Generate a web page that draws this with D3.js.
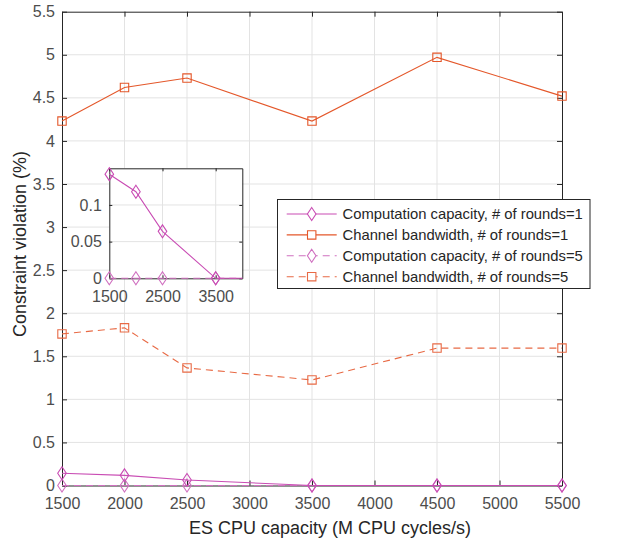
<!DOCTYPE html>
<html>
<head>
<meta charset="utf-8">
<script src="https://cdn.jsdelivr.net/npm/d3@7"></script>
<style>
body { margin: 0; background: #fff; }
text { font-family: "Liberation Sans", Arial, sans-serif; }
</style>
</head>
<body>
<div class="chart"></div>
<script>
const cpu = [1500, 2000, 2500, 3500, 4500, 5500];
const compR1 = [0.142, 0.118, 0.064, 0, 0, 0];
const chanR1 = [4.23, 4.62, 4.73, 4.23, 4.97, 4.52];
const compR5 = [0, 0, 0, 0, 0, 0];
const chanR5 = [1.76, 1.83, 1.365, 1.225, 1.595, 1.595];
const xTicks = [1500, 2000, 2500, 3000, 3500, 4000, 4500, 5000, 5500];
const yTicks = [0, 0.5, 1, 1.5, 2, 2.5, 3, 3.5, 4, 4.5, 5, 5.5];
const insetXTicks = [1500, 2500, 3500];
const insetYTicks = [0, 0.05, 0.1];

const compColor = '#c94db4';
const chanColor = '#e4572a';
const compColor5 = '#d070c0';
const chanColor5 = '#e86a45';

const series = [
  {name: 'Computation capacity, # of rounds=1', vals: compR1, color: compColor, dash: null, marker: 'diamond'},
  {name: 'Channel bandwidth, # of rounds=1', vals: chanR1, color: chanColor, dash: null, marker: 'square'},
  {name: 'Computation capacity, # of rounds=5', vals: compR5, color: compColor5, dash: '7,5', marker: 'diamond'},
  {name: 'Channel bandwidth, # of rounds=5', vals: chanR5, color: chanColor5, dash: '7,5', marker: 'square'}
];

const W = 617, H = 542;
const svg = d3.select('.chart').append('svg')
  .attr('width', W)
  .attr('height', H);

const x = d3.scaleLinear().domain([1500, 5500]).range([62, 562]);
const y = d3.scaleLinear().domain([0, 5.5]).range([485.5, 11.7]);

function markerPath(type) {
  if (type === 'diamond') return 'M0,-6.5L4.3,0L0,6.5L-4.3,0Z';
  return 'M-4.2,-4.2H4.2V4.2H-4.2Z';
}

// grid
svg.append('g').selectAll('line').data(xTicks.slice(1, -1)).enter().append('line')
  .attr('x1', d => x(d)).attr('x2', d => x(d))
  .attr('y1', y(0)).attr('y2', y(5.5))
  .attr('stroke', '#e3e3e3').attr('stroke-width', 1);
svg.append('g').selectAll('line').data(yTicks.slice(1, -1)).enter().append('line')
  .attr('x1', x(1500)).attr('x2', x(5500))
  .attr('y1', d => y(d)).attr('y2', d => y(d))
  .attr('stroke', '#e3e3e3').attr('stroke-width', 1);

// axes
const axisColor = '#262626';
const tickColor = '#4d4d4d';
function styleAxis(g, hideLabels) {
  g.select('.domain').attr('stroke', axisColor);
  g.selectAll('.tick line').attr('stroke', axisColor);
  g.selectAll('.tick text').attr('fill', tickColor).attr('font-size', 16);
  if (hideLabels) g.selectAll('.tick text').remove();
}
svg.append('g').attr('transform', `translate(0,${y(0)})`)
  .call(d3.axisBottom(x).tickValues(xTicks).tickSize(-5).tickSizeOuter(0).tickPadding(12).tickFormat(d3.format('d')))
  .call(g => styleAxis(g, false));
svg.append('g').attr('transform', `translate(0,${y(5.5)})`)
  .call(d3.axisTop(x).tickValues(xTicks).tickSize(-5).tickSizeOuter(0))
  .call(g => styleAxis(g, true));
svg.append('g').attr('transform', `translate(${x(1500)},0)`)
  .call(d3.axisLeft(y).tickValues(yTicks).tickSize(-5).tickSizeOuter(0).tickPadding(7).tickFormat(d3.format('')))
  .call(g => styleAxis(g, false));
svg.append('g').attr('transform', `translate(${x(5500)},0)`)
  .call(d3.axisRight(y).tickValues(yTicks).tickSize(-5).tickSizeOuter(0))
  .call(g => styleAxis(g, true));

function drawSeries(g, xs, ys, data) {
  const line = d3.line().x((d, i) => xs(cpu[i])).y(d => ys(d));
  data.forEach(s => {
    g.append('path').datum(s.vals)
      .attr('d', line)
      .attr('fill', 'none')
      .attr('stroke', s.color)
      .attr('stroke-width', 1.1)
      .attr('stroke-dasharray', s.dash);
    g.selectAll(null).data(s.vals).enter().append('path')
      .attr('d', markerPath(s.marker))
      .attr('transform', (d, i) => `translate(${xs(cpu[i])},${ys(d)})`)
      .attr('fill', 'none')
      .attr('stroke', s.color)
      .attr('stroke-width', 1.1);
  });
}
drawSeries(svg.append('g'), x, y, [series[2], series[3], series[0], series[1]]);

// inset
const ix = d3.scaleLinear().domain([1500, 4000]).range([109.3, 242.3]);
const iy = d3.scaleLinear().domain([0, 0.15]).range([278.3, 168.3]);
const inset = svg.append('g');
inset.append('rect')
  .attr('x', ix(1500)).attr('y', iy(0.15))
  .attr('width', ix(4000) - ix(1500)).attr('height', iy(0) - iy(0.15))
  .attr('fill', '#fff');
inset.append('g').selectAll('line').data(insetXTicks.slice(1)).enter().append('line')
  .attr('x1', d => ix(d)).attr('x2', d => ix(d))
  .attr('y1', iy(0)).attr('y2', iy(0.15))
  .attr('stroke', '#e3e3e3');
inset.append('g').selectAll('line').data(insetYTicks.slice(1)).enter().append('line')
  .attr('x1', ix(1500)).attr('x2', ix(4000))
  .attr('y1', d => iy(d)).attr('y2', d => iy(d))
  .attr('stroke', '#e3e3e3');
inset.append('g').attr('transform', `translate(0,${iy(0)})`)
  .call(d3.axisBottom(ix).tickValues(insetXTicks).tickSize(-3).tickSizeOuter(0).tickPadding(12).tickFormat(d3.format('d')))
  .call(g => styleAxis(g, false));
inset.append('g').attr('transform', `translate(0,${iy(0.15)})`)
  .call(d3.axisTop(ix).tickValues(insetXTicks).tickSize(-3).tickSizeOuter(0))
  .call(g => styleAxis(g, true));
inset.append('g').attr('transform', `translate(${ix(1500)},0)`)
  .call(d3.axisLeft(iy).tickValues(insetYTicks).tickSize(-3).tickSizeOuter(0).tickPadding(7.5).tickFormat(d3.format('')))
  .call(g => styleAxis(g, false));
inset.append('g').attr('transform', `translate(${ix(4000)},0)`)
  .call(d3.axisRight(iy).tickValues(insetYTicks).tickSize(-3).tickSizeOuter(0))
  .call(g => styleAxis(g, true));

svg.append('defs').append('clipPath').attr('id', 'insetClip')
  .append('rect')
  .attr('x', ix(1500) - 8).attr('y', iy(0.15) - 8)
  .attr('width', ix(4000) - ix(1500) + 8).attr('height', iy(0) - iy(0.15) + 16);
const insetData = inset.append('g').attr('clip-path', 'url(#insetClip)');
drawSeries(insetData, ix, iy, [series[2], series[0]]);

// axis labels
svg.append('text')
  .attr('x', 330).attr('y', 534)
  .attr('text-anchor', 'middle')
  .attr('font-size', 18)
  .attr('fill', '#262626')
  .text('ES CPU capacity (M CPU cycles/s)');
svg.append('text')
  .attr('transform', 'translate(26,244) rotate(-90)')
  .attr('text-anchor', 'middle')
  .attr('font-size', 18)
  .attr('fill', '#262626')
  .text('Constraint violation (%)');

// legend
const legend = svg.append('g');
legend.append('rect')
  .attr('x', 277.5).attr('y', 199.5)
  .attr('width', 312.5).attr('height', 89)
  .attr('fill', '#fff')
  .attr('stroke', '#262626')
  .attr('stroke-width', 1);
series.forEach((s, i) => {
  const ly = 214 + i * 20.9;
  legend.append('line')
    .attr('x1', 286.7).attr('x2', 336.7)
    .attr('y1', ly).attr('y2', ly)
    .attr('stroke', s.color)
    .attr('stroke-width', 1.1)
    .attr('stroke-dasharray', s.dash);
  legend.append('path')
    .attr('d', markerPath(s.marker))
    .attr('transform', `translate(311.7,${ly})`)
    .attr('fill', '#fff')
    .attr('stroke', s.color)
    .attr('stroke-width', 1.1);
  legend.append('text')
    .attr('x', 342.5).attr('y', ly)
    .attr('dy', '0.35em')
    .attr('font-size', 14.8)
    .attr('fill', '#262626')
    .text(s.name);
});
</script>
</body>
</html>
